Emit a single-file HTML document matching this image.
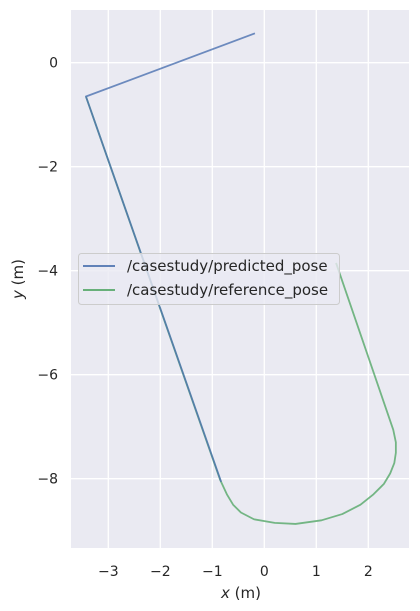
<!DOCTYPE html>
<html><head><meta charset="utf-8"><style>
html,body{margin:0;padding:0;background:#fff;}
svg{display:block;font-family:"DejaVu Sans","Liberation Sans",sans-serif;}
</style></head><body>
<svg id="chart" width="420" height="611" viewBox="0 0 420 611">
<rect x="71" y="10" width="338" height="538" fill="#eaeaf2"/>
<g id="grid"></g>
<g id="series"></g>
<g id="ticks"></g>
<text x="241" y="598" font-size="15" fill="#262626" text-anchor="middle"><tspan font-style="italic">x</tspan> (m)</text>
<text transform="translate(23,279) rotate(-90)" font-size="15" fill="#262626" text-anchor="middle"><tspan font-style="italic">y</tspan> (m)</text>
<g>
<rect x="78.5" y="253.5" width="261" height="51" rx="3" fill="#eaeaf2" fill-opacity="0.8" stroke="#cccccc"/>
<line x1="83" y1="266" x2="115" y2="266" stroke="#4c72b0" stroke-width="1.8"/>
<text x="127" y="271" font-size="15" fill="#262626">/casestudy/predicted_pose</text>
<line x1="83" y1="290" x2="115" y2="290" stroke="#55a868" stroke-width="1.8"/>
<text x="127" y="295" font-size="15" fill="#262626">/casestudy/reference_pose</text>
</g>
</svg>
<script>
const xTicks=[-3,-2,-1,0,1,2];
const yTicks=[0,-2,-4,-6,-8];
const predX=[-0.18,-3.43,-0.83];
const predY=[0.565,-0.65,-8.06];
const refX=[1.38,2.48,2.53,2.53,2.5,2.42,2.3,2.1,1.85,1.5,1.1,0.6,0.2,-0.2,-0.45,-0.6,-0.72,-0.85,-3.43];
const refY=[-3.85,-7.06,-7.3,-7.5,-7.7,-7.9,-8.1,-8.3,-8.5,-8.68,-8.8,-8.87,-8.85,-8.78,-8.65,-8.5,-8.3,-8.02,-0.65];
const sx=v=>264.3+v*52;
const sy=v=>62.7-v*52;
const NS="http://www.w3.org/2000/svg";
const grid=document.getElementById('grid'),ticks=document.getElementById('ticks'),series=document.getElementById('series');
xTicks.forEach(t=>{
 const l=document.createElementNS(NS,'line');
 l.setAttribute('x1',sx(t));l.setAttribute('x2',sx(t));l.setAttribute('y1',10);l.setAttribute('y2',548);
 l.setAttribute('stroke','#fff');l.setAttribute('stroke-width','1.3');
 
 
 grid.appendChild(l);
 const tx=document.createElementNS(NS,'text');
 tx.setAttribute('x',sx(t));tx.setAttribute('y',576);tx.setAttribute('font-size','14');tx.setAttribute('fill','#262626');tx.setAttribute('text-anchor','middle');
 tx.textContent=t<0?'\u2212'+(-t):String(t);
 
 
 ticks.appendChild(tx);
});
yTicks.forEach(t=>{
 const l=document.createElementNS(NS,'line');
 l.setAttribute('x1',71);l.setAttribute('x2',409);l.setAttribute('y1',sy(t));l.setAttribute('y2',sy(t));
 l.setAttribute('stroke','#fff');l.setAttribute('stroke-width','1.3');
 
 
 grid.appendChild(l);
 const tx=document.createElementNS(NS,'text');
 tx.setAttribute('x',58);tx.setAttribute('y',sy(t)+5);tx.setAttribute('font-size','14');tx.setAttribute('fill','#262626');tx.setAttribute('text-anchor','end');
 tx.textContent=t<0?'\u2212'+(-t):String(t);
 
 
 ticks.appendChild(tx);
});
function path(xs,ys,color,name){
 const p=document.createElementNS(NS,'polyline');
 p.setAttribute('points',xs.map((x,i)=>sx(x)+','+sy(ys[i])).join(' '));
 p.setAttribute('fill','none');p.setAttribute('stroke',color);p.setAttribute('stroke-width','1.8');p.setAttribute('stroke-opacity','0.8');p.setAttribute('stroke-linejoin','round');
 
 
 series.appendChild(p);
}
path(refX,refY,'#55a868','reference-pose-line');
path(predX,predY,'#4c72b0','predicted-pose-line');
</script>
</body></html>
